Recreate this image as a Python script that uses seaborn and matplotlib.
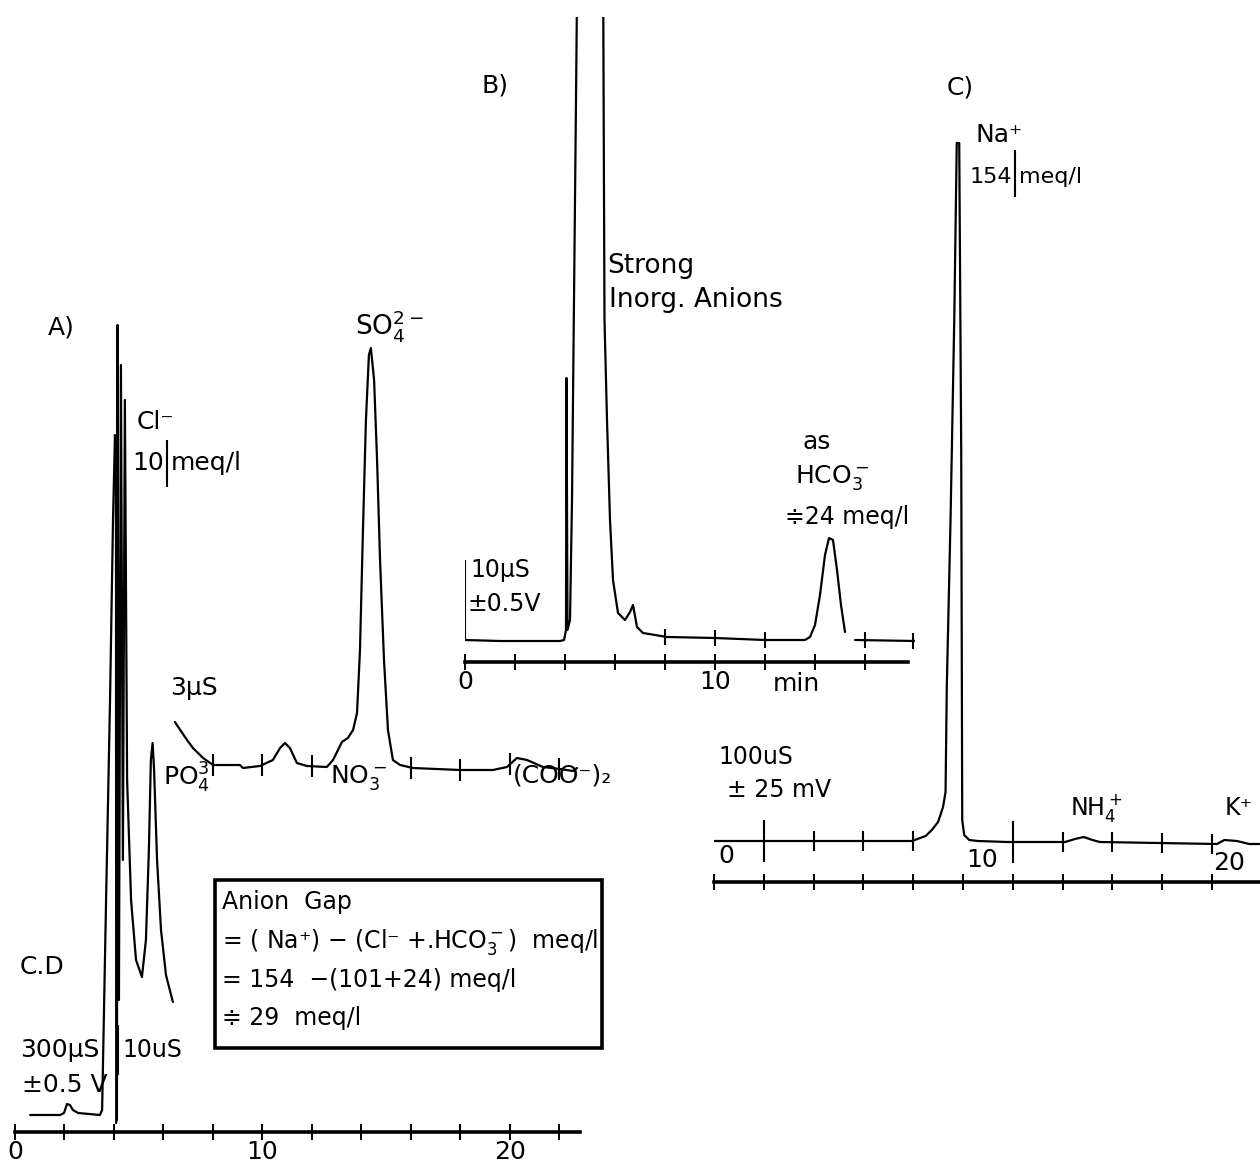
import numpy as np
import pandas as pd
import matplotlib.pyplot as plt
import seaborn as sns
from matplotlib.patches import Rectangle

# Recorder traces.
# time in min, signal = pen height above the time axis (chart units)

# A) anions, C.D 300 uS range
a_main_time = [0.61, 1.82, 1.98, 2.10, 2.22, 2.34, 2.55, 3.43, 3.52, 3.68, 3.84, 3.96, 4.04, 4.08, 4.09]
a_main_sig = [17, 17, 19, 28, 27, 22, 19, 17, 22, 232, 432, 612, 697, 652, 9]

# A) same run, 10 uS range (Cl- off scale, then PO4 3-)
a_fine_time = [4.12, 4.14, 4.20, 4.28, 4.36, 4.44, 4.53, 4.69, 4.89, 5.13, 5.29, 5.41, 5.49, 5.56, 5.62,
               5.74, 5.90, 6.10, 6.38]
a_fine_sig = [12, 807, 132, 767, 272, 732, 352, 232, 172, 155, 192, 282, 372, 389, 362,
              272, 202, 157, 130]

# A) 3 uS range (NO3-, SO4 2-, oxalate)
a_low_time = [6.46, 6.95, 7.19, 7.60, 8.00, 9.09, 9.21, 9.90, 10.42, 10.71, 10.91, 11.11, 11.39, 11.80,
              12.60, 12.85, 13.21, 13.45, 13.66, 13.82, 13.94, 14.06, 14.18, 14.30, 14.38, 14.51, 14.63,
              14.75, 14.91, 15.07, 15.27, 15.56, 16.08, 17.98, 19.31, 19.88, 20.28, 20.69, 21.33, 22.02,
              22.55, 22.71]
a_low_sig = [68, 50, 42, 32, 25, 25, 22, 24, 30, 42, 47, 42, 27, 24,
             23, 30, 48, 52, 60, 77, 140, 260, 370, 435, 442, 410, 330,
             230, 130, 60, 30, 25, 22, 20, 20, 23, 32, 30, 23, 21,
             19, 22]
a_low_marks = [8, 10, 12, 16, 18, 20, 22]

# B) strong inorganic anions + HCO3-
b_time = [0.0, 1.4, 3.8, 3.96, 4.04, 4.06, 4.10, 4.20, 4.28, 4.36, 4.44, 4.50, 5.52, 5.58, 5.68,
          5.80, 5.92, 6.12, 6.40, 6.60, 6.72, 6.88, 7.12, 8.08, 10.0, 12.0, 13.6, 13.8, 14.0,
          14.2, 14.4, 14.56, 14.72, 14.88, 15.04, 15.2]
b_sig = [22, 21, 21, 22, 32, 284, 32, 42, 162, 362, 562, 720, 720, 342, 242,
         142, 82, 49, 42, 50, 57, 35, 29, 25, 24, 22, 22, 25, 37,
         67, 107, 124, 122, 92, 57, 30]
b_tail_time = [15.6, 18.0]
b_tail_sig = [22, 21]
b_marks = [8, 10, 12]

# C) cations, Na+ / NH4+ / K+
c_time = [0.0, 7.95, 8.5, 8.75, 9.0, 9.2, 9.3, 9.35, 9.5, 9.65, 9.75, 9.85, 9.93, 9.97, 10.05,
          10.25, 10.6, 11.8, 14.1, 14.5, 14.85, 15.2, 15.5, 20.2, 20.5, 21.0, 21.5, 21.9]
c_sig = [41, 41, 46, 52, 60, 75, 90, 195, 362, 562, 739, 739, 429, 62, 47,
         42, 41, 40, 40, 43, 45, 42, 40, 38, 42, 41, 38, 38]
c_marks = [4, 6, 8, 14, 16, 18, 20]
c_long_marks = [2, 12]

W, H = 1260, 1169
sns.set_theme(style="white")
plt.rcParams['font.family'] = ['DejaVu Sans']
plt.rcParams['mathtext.fontset'] = 'dejavusans'

fig = plt.figure(figsize=(W / 100, H / 100), dpi=100)
fig.patch.set_facecolor('white')


def place(x0, x1, top, bottom):
    ax = fig.add_axes([x0 / W, 1 - bottom / H, (x1 - x0) / W, (bottom - top) / H])
    ax.set_facecolor('none')
    return ax


def trace(ax, t, s, lw=1.6):
    df = pd.DataFrame({'t': t, 's': s})
    sns.lineplot(data=df, x='t', y='s', ax=ax, color='black', lw=lw, sort=False, estimator=None)
    ax.set_xlabel('')
    ax.set_ylabel('')


def marks(ax, t, s, where, size):
    ax.plot(where, np.interp(where, t, s), ls='none', marker='|', ms=size, mew=1.5, color='black')


def time_axis(ax, xmax, ymax, labelled, labels=True):
    ax.set_xlim(0, xmax)
    ax.set_ylim(0, ymax)
    for side in ['left', 'top', 'right']:
        ax.spines[side].set_visible(False)
    ax.spines['bottom'].set_linewidth(2.6)
    ax.spines['bottom'].set_color('black')
    ax.set_yticks([])
    ax.set_xticks(labelled)
    ax.set_xticks(np.arange(0, xmax, 2), minor=True)
    ax.tick_params(axis='x', which='both', direction='inout', length=12, width=1.4,
                   bottom=True, color='black', labelcolor='black', labelsize=18, pad=0,
                   labelbottom=labels)
    if labels:
        ax.set_xticklabels([str(v) for v in labelled])


def bare(ax, xmax, ymax):
    ax.set_xlim(0, xmax)
    ax.set_ylim(0, ymax)
    ax.axis('off')


# panel A
axA = place(15, 580, 300, 1132)
time_axis(axA, 22.83, 832, [0, 10, 20])
trace(axA, a_main_time, a_main_sig)
trace(axA, a_fine_time, a_fine_sig)

axA3 = place(15, 580, 300, 790)
bare(axA3, 22.83, 490)
trace(axA3, a_low_time, a_low_sig)
marks(axA3, a_low_time, a_low_sig, a_low_marks, 16)

# panel B
axB = place(465, 915, 17, 662)
time_axis(axB, 18.0, 645, [0, 10])
axB.spines['bottom'].set_bounds(0, 17.7)
trace(axB, b_time, b_sig)
trace(axB, b_tail_time, b_tail_sig)
marks(axB, b_time, b_sig, b_marks, 12)
marks(axB, b_tail_time, b_tail_sig, [16, 17.9], 12)
axB.vlines(0, 22, 102, color='black', lw=1.5)

# panel C
axC = place(714, 1260, 120, 882)
time_axis(axC, 21.93, 762, [0, 10, 20], labels=False)
trace(axC, c_time, c_sig)
marks(axC, c_time, c_sig, c_marks, 14)
marks(axC, c_time, c_sig, c_long_marks, 30)

# annotations in page pixels
ov = fig.add_axes([0, 0, 1, 1])
ov.set_xlim(0, W)
ov.set_ylim(H, 0)
ov.axis('off')
ov.set_facecolor('none')


def label(x, y, s, size=18, ha='left'):
    ov.text(x, y, s, fontsize=size, ha=ha, va='center', color='black')


label(48, 327, 'A)')
label(355, 326, r'SO$_4^{2-}$', 19)
label(137, 422, 'Cl⁻')
label(164, 463, '10', ha='right')
ov.vlines(167, 440, 487, color='black', lw=1.5)
label(171, 463, 'meq/l')
label(170, 688, '3µS')
label(163, 778, r'PO$_4^3$')
label(330, 778, r'NO$_3^-$')
label(513, 776, '(COO⁻)₂')
label(20, 967, 'C.D')
label(20, 1050, '300µS')
label(22, 1085, '±0.5 V')
ov.vlines(118, 1025, 1075, color='black', lw=1.5)
label(122, 1050, '10uS', 17)

ov.add_patch(Rectangle((215, 880), 387, 168, fill=False, lw=2.6, ec='black'))
label(222, 902, 'Anion  Gap', 17)
label(222, 942, r'= ( Na⁺) − (Cl⁻ +.HCO$_3^-$)  meq/l', 17)
label(222, 980, '= 154  −(101+24) meq/l', 17)
label(222, 1018, '≑ 29  meq/l', 17)

label(482, 85, 'B)')
label(607, 266, 'Strong', 19)
label(609, 300, 'Inorg. Anions', 19)
label(803, 442, 'as')
label(795, 478, r'HCO$_3^-$')
label(785, 517, '≑24 meq/l', 17)
label(470, 570, '10µS', 17)
label(468, 604, '±0.5V', 17)
label(773, 684, 'min')

label(947, 88, 'C)')
label(975, 135, 'Na⁺')
label(1012, 177, '154', 16, ha='right')
ov.vlines(1015, 150, 197, color='black', lw=1.5)
label(1019, 177, 'meq/l', 16)
label(718, 757, '100uS', 17)
label(727, 790, '± 25 mV', 17)
label(1070, 808, r'NH$_4^+$', 17)
label(1225, 808, 'K⁺', 17)
label(718, 856, '0')
label(966, 860, '10')
label(1213, 863, '20')

fig.savefig('out.png', dpi=100, facecolor='white')
